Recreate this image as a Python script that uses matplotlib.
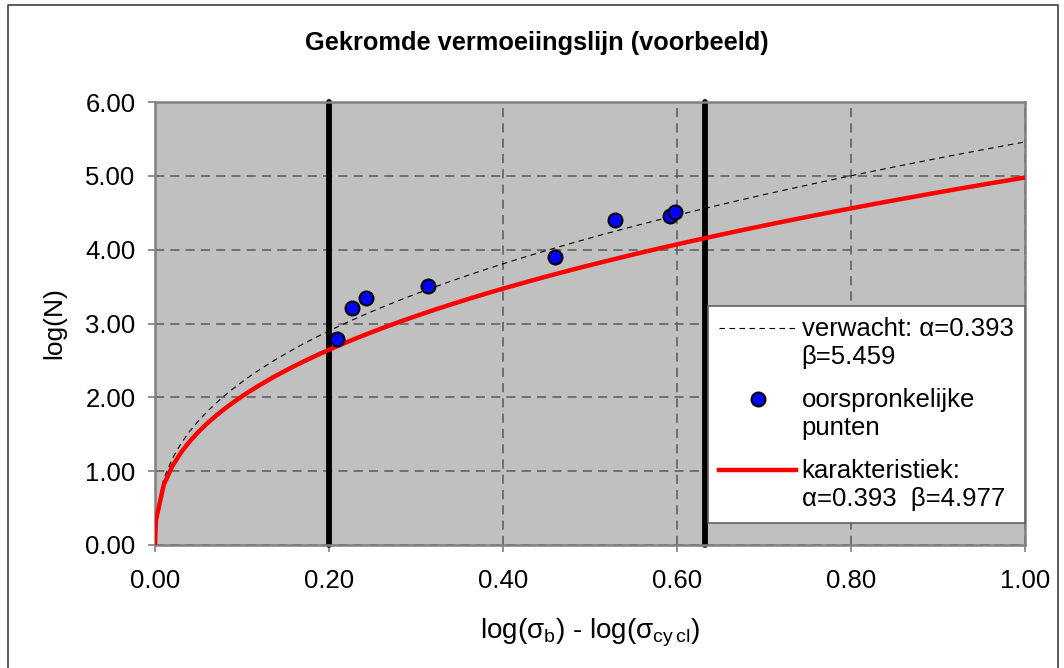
import numpy as np
import matplotlib
matplotlib.use('Agg')
import matplotlib.pyplot as plt
from matplotlib.lines import Line2D
from matplotlib.legend_handler import HandlerLine2D

plt.rcParams['font.family'] = ['Liberation Sans', 'DejaVu Sans']
plt.rcParams['mathtext.fontset'] = 'custom'
plt.rcParams['mathtext.rm'] = 'Liberation Sans'

# vermoeiingslijn: log(N) = beta * x**alpha
alpha = 0.393
beta_verwacht = 5.459
beta_kar = 4.977
x_lijn = np.concatenate(([0.0, 0.001], np.arange(0.01, 1.0001, 0.01)))

# oorspronkelijke meetpunten
x_punten = [0.209, 0.226, 0.243, 0.314, 0.460, 0.529, 0.592, 0.598]
y_punten = [2.79, 3.21, 3.35, 3.51, 3.90, 4.40, 4.46, 4.51]

# grenzen van het geldigheidsgebied
x_grenzen = [0.20, 0.632]

x_ticks = [0.0, 0.2, 0.4, 0.6, 0.8, 1.0]
y_ticks = [0, 1, 2, 3, 4, 5, 6]


class EersteRegel(HandlerLine2D):
    """Legend handle next to the first line of a two-line label."""
    def create_artists(self, legend, orig_handle, xdescent, ydescent,
                       width, height, fontsize, trans):
        return super().create_artists(legend, orig_handle, xdescent,
                                      ydescent - 1.2 * fontsize, width, height,
                                      fontsize, trans)


fig = plt.figure(figsize=(10.64, 6.68), dpi=100)
ax = fig.add_axes([155 / 1064, 123 / 668, 870 / 1064, 443 / 668])
ax.set_facecolor('#c0c0c0')

ax.set_xlim(0, 1)
ax.set_ylim(0, 6)
ax.set_xticks(x_ticks)
ax.set_yticks(y_ticks)
ax.set_xticklabels(['%.2f' % v for v in x_ticks])
ax.set_yticklabels(['%.2f' % v for v in y_ticks])
ax.tick_params(direction='out', length=5, width=1.2, color='#808080',
               labelsize=18.5, labelcolor='black')
ax.tick_params(axis='y', pad=9)
ax.tick_params(axis='x', pad=12)
for s in ax.spines.values():
    s.set_color('#808080')
    s.set_linewidth(1.8)

ax.grid(True, color='#5a5a5a', linewidth=1.1, dashes=(6, 4))
ax.set_axisbelow(True)

for xg in x_grenzen:
    ax.plot([xg, xg], [0, 6], color='black', linewidth=4.2,
            solid_capstyle='round', zorder=2, clip_on=False)

ax.plot(x_lijn, beta_verwacht * x_lijn ** alpha, color='black', linewidth=0.8,
        dashes=(5, 4), zorder=3,
        label='verwacht: α=%.3f\nβ=%.3f' % (alpha, beta_verwacht))
ax.plot(x_punten, y_punten, linestyle='none', marker='o', markersize=10,
        markerfacecolor='#0000ff', markeredgecolor='black', markeredgewidth=1.5,
        zorder=5, label='oorspronkelijke\npunten')
ax.plot(x_lijn, beta_kar * x_lijn ** alpha, color='#ff0000', linewidth=3.2,
        zorder=4, label='karakteristiek:\nα=%.3f  β=%.3f' % (alpha, beta_kar))

leg = ax.legend(loc='lower right', bbox_to_anchor=(1.0, 0.05), borderaxespad=0,
                fontsize=18.5, handlelength=3.0, handletextpad=0.2,
                labelspacing=0.75, borderpad=0.45, fancybox=False,
                framealpha=1, edgecolor='#606060',
                handler_map={Line2D: EersteRegel()})
leg.get_frame().set_linewidth(1.2)
leg.set_zorder(10)

ax.set_xlabel(r'log($\mathrm{σ}_\mathrm{b}$) - log($\mathrm{σ}_\mathrm{cy\,cl}$)',
              fontsize=20, labelpad=17)
ax.set_ylabel('log(N)', fontsize=19, labelpad=14)

fig.text(537 / 1064, 1 - 43 / 668, 'Gekromde vermoeiingslijn (voorbeeld)',
         ha='center', va='center', fontsize=18.3, fontweight='bold')

# kader rond de grafiek
fig.add_artist(Line2D([8 / 1064, 8 / 1064, 1058 / 1064, 1058 / 1064],
                      [-0.01, 1 - 5 / 668, 1 - 5 / 668, -0.01],
                      color='#404040', linewidth=1.2, transform=fig.transFigure))

fig.savefig('out.png', dpi=100)
